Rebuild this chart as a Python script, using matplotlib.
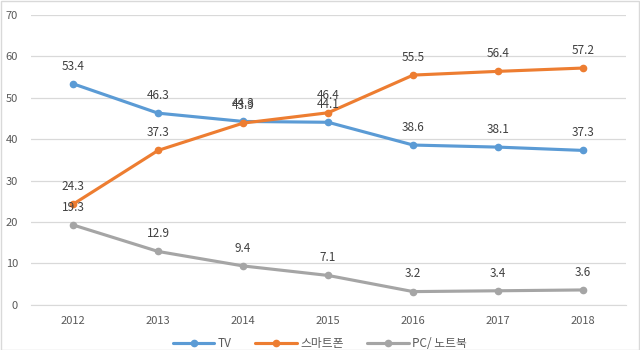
import matplotlib
matplotlib.use("Agg")
import matplotlib.pyplot as plt
from matplotlib.patches import Rectangle

plt.rcParams['font.family'] = ['Noto Sans CJK KR', 'DejaVu Sans']

years = ['2012', '2013', '2014', '2015', '2016', '2017', '2018']
tv = [53.4, 46.3, 44.3, 44.1, 38.6, 38.1, 37.3]
smartphone = [24.3, 37.3, 43.9, 46.4, 55.5, 56.4, 57.2]
pc = [19.3, 12.9, 9.4, 7.1, 3.2, 3.4, 3.6]
series_names = ['TV', '스마트폰', 'PC/ 노트북']
colors = ['#5B9BD5', '#ED7D31', '#A5A5A5']
yticks = [0, 10, 20, 30, 40, 50, 60, 70]

fig = plt.figure(figsize=(6.4, 3.5), dpi=100)
ax = fig.add_axes([0.0477, 0.129, 0.93, 0.828])
x = list(range(len(years)))

for vals, name, c in zip([tv, smartphone, pc], series_names, colors):
    ax.plot(x, vals, color=c, lw=2.25, marker='o', ms=4.5, label=name, zorder=3,
            solid_capstyle='round')
    for xi, v in zip(x, vals):
        ax.annotate(f'{v}', (xi, v), xytext=(0, 8), textcoords='offset points',
                    ha='center', va='bottom', fontsize=8.5, color='#404040', zorder=4)

ax.set_xlim(-0.5, 6.5)
ax.set_ylim(0, 70)
ax.set_yticks(yticks)
ax.set_xticks(x)
ax.set_xticklabels(years)
ax.grid(axis='y', color='#D9D9D9', lw=0.9)
ax.set_axisbelow(True)
for s in ['top', 'right', 'left']:
    ax.spines[s].set_visible(False)
ax.spines['bottom'].set_color('#D9D9D9')
ax.tick_params(axis='both', length=0, labelsize=8, colors='#595959')
ax.tick_params(axis='y', pad=9)
ax.tick_params(axis='x', pad=8)

leg = fig.legend(loc='lower center', bbox_to_anchor=(0.5, -0.03), ncol=3, frameon=False,
                 fontsize=8.5, handlelength=3.5, columnspacing=2.0, handletextpad=0.3,
                 labelcolor='#595959')

fig.patches.append(Rectangle((0.001, 0.001), 0.997, 0.997, transform=fig.transFigure,
                             fill=False, edgecolor='#D9D9D9', lw=1))

fig.savefig('out.png', dpi=100)
